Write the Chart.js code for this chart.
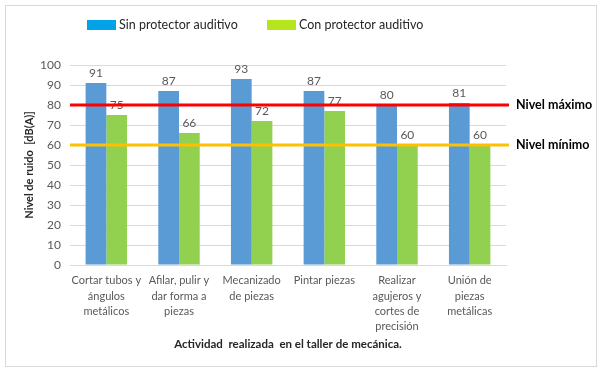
<!DOCTYPE html>
<html>
<head>
<meta charset="utf-8">
<script src="https://cdn.jsdelivr.net/npm/chart.js@4.4.0/dist/chart.umd.min.js"></script>
<style>
  body { margin: 0; background: #fff; }
  #wrap { position: relative; width: 602px; height: 371px; }
  #frame { position: absolute; left: 5px; top: 5px; width: 590px; height: 360px; border: 1px solid #d9d9d9; pointer-events: none; }
</style>
</head>
<body>
<div id="wrap">
  <canvas id="myChart" width="602" height="371"></canvas>
  <div id="frame"></div>
</div>
<script>
const categories = [
    ['Cortar tubos y', 'ángulos', 'metálicos'],
    ['Afilar, pulir y', 'dar forma a', 'piezas'],
    ['Mecanizado', 'de piezas'],
    ['Pintar piezas'],
    ['Realizar', 'agujeros y', 'cortes de', 'precisión'],
    ['Unión de', 'piezas', 'metálicas']
];
const sinProtector = [91, 87, 93, 87, 80, 81];
const conProtector = [75, 66, 72, 77, 60, 60];
const nivelMaximo = 80;
const nivelMinimo = 60;

const font = "Lato, 'Open Sans', sans-serif";

// legend drawn by hand: swatch colours differ from the bars
const topLegend = {
    id: 'topLegend',
    afterDraw(chart) {
        const ctx = chart.ctx;
        const items = [
            { x: 87, color: '#00a2e8', text: 'Sin protector auditivo' },
            { x: 267, color: '#b5e61d', text: 'Con protector auditivo' }
        ];
        ctx.save();
        ctx.font = '12.5px ' + font;
        ctx.textBaseline = 'middle';
        ctx.textAlign = 'left';
        items.forEach(it => {
            ctx.fillStyle = it.color;
            ctx.fillRect(it.x, 20, 29, 10);
            ctx.fillStyle = '#262626';
            ctx.fillText(it.text, it.x + 32, 25);
        });
        ctx.restore();
    }
};

// value labels above the bars
const barLabels = {
    id: 'barLabels',
    afterDatasetsDraw(chart) {
        const ctx = chart.ctx;
        ctx.save();
        ctx.font = '12px ' + font;
        ctx.fillStyle = '#595959';
        ctx.textAlign = 'center';
        ctx.textBaseline = 'bottom';
        chart.data.datasets.forEach((ds, i) => {
            chart.getDatasetMeta(i).data.forEach((bar, j) => {
                ctx.fillText(ds.data[j], bar.x, bar.y - 4);
            });
        });
        ctx.restore();
    }
};

// Nivel maximo / minimo lines
const levels = {
    id: 'levels',
    afterDatasetsDraw(chart) {
        const ctx = chart.ctx;
        const y = chart.scales.y;
        const area = chart.chartArea;
        const lines = [
            { value: nivelMaximo, color: '#ff0000', label: 'Nivel máximo' },
            { value: nivelMinimo, color: '#ffc000', label: 'Nivel mínimo' }
        ];
        ctx.save();
        lines.forEach(l => {
            const py = y.getPixelForValue(l.value);
            ctx.strokeStyle = l.color;
            ctx.lineWidth = 3;
            ctx.beginPath();
            ctx.moveTo(area.left, py);
            ctx.lineTo(area.right + 3, py);
            ctx.stroke();
            ctx.font = 'bold 12.5px ' + font;
            ctx.fillStyle = '#000';
            ctx.textAlign = 'left';
            ctx.textBaseline = 'middle';
            ctx.fillText(l.label, area.right + 10, py);
        });
        ctx.restore();
    }
};

const ctx = document.getElementById('myChart').getContext('2d');
const chart = new Chart(ctx, {
    type: 'bar',
    data: {
        labels: categories,
        datasets: [{
            label: 'Sin protector auditivo',
            data: sinProtector,
            backgroundColor: '#5b9bd5',
            categoryPercentage: 0.57,
            barPercentage: 1
        }, {
            label: 'Con protector auditivo',
            data: conProtector,
            backgroundColor: '#92d050',
            categoryPercentage: 0.57,
            barPercentage: 1
        }]
    },
    options: {
        responsive: false,
        animation: false,
        layout: { padding: { left: 20, right: 96, top: 65, bottom: 16 } },
        plugins: {
            tooltip: { enabled: false },
            legend: { display: false }
        },
        scales: {
            x: {
                grid: { display: false },
                border: { color: '#d9d9d9' },
                ticks: {
                    color: '#595959',
                    font: { family: font, size: 11, lineHeight: 1.4 },
                    maxRotation: 0,
                    autoSkip: false,
                    padding: 0
                },
                title: {
                    display: true,
                    text: 'Actividad  realizada  en el taller de mecánica.',
                    color: '#262626',
                    font: { family: font, size: 11.5, weight: 'bold' },
                    padding: { top: 0 }
                },
                afterFit(scale) { scale.height = 90; }
            },
            y: {
                min: 0,
                max: 100,
                ticks: {
                    stepSize: 10,
                    color: '#595959',
                    font: { family: font, size: 12 },
                    padding: 9
                },
                grid: { color: '#d9d9d9', drawTicks: false },
                border: { display: false },
                title: {
                    display: true,
                    text: 'Nivel de ruido  [dB(A)]',
                    color: '#262626',
                    font: { family: font, size: 11, weight: 'bold' },
                    padding: { top: 3, bottom: 4 }
                },
                afterFit(scale) { scale.width = 50; }
            }
        }
    },
    plugins: [topLegend, barLabels, levels]
});
</script>
</body>
</html>
